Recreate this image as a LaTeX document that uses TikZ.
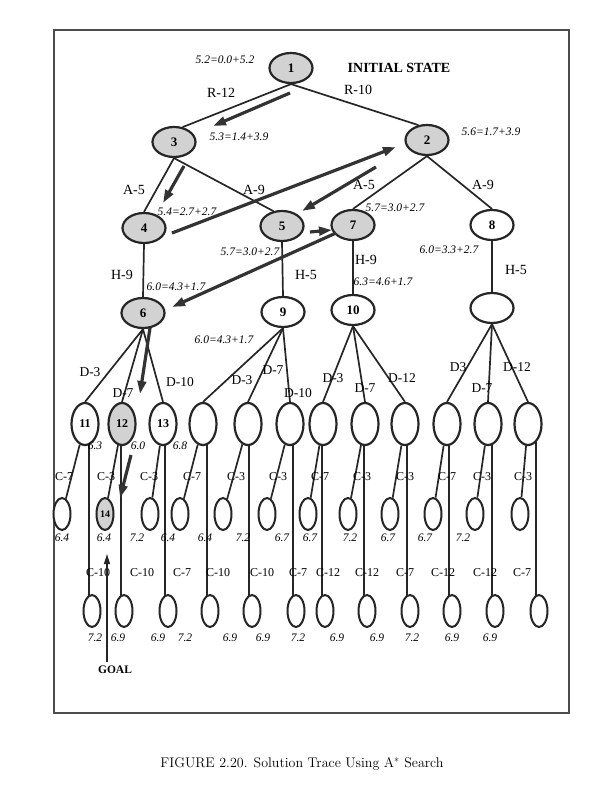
\documentclass[tikz,border=0pt]{standalone}
\usepackage{amssymb}
\usepackage{amsmath}
\usepackage{fontspec}
\newfontfamily\tms{Liberation Serif}
\usetikzlibrary{shapes.geometric,arrows.meta,backgrounds,calc}

\tikzset{
    state/.style={ellipse, draw=black!85, line width=2.2pt, fill=gray!35, minimum width=43pt, minimum height=30pt, inner sep=0pt, font=\tms\bfseries\fontsize{13}{13}\selectfont},
    unvisited/.style={state, fill=white},
    deep/.style={unvisited, minimum width=27pt, minimum height=42pt, font=\tms\bfseries\fontsize{12}{12}\selectfont},
    deepdone/.style={deep, fill=gray!35},
    twig/.style={unvisited, line width=2pt, minimum width=17pt, minimum height=32pt, font=\tms\bfseries\fontsize{10}{10}\selectfont},
    twigdone/.style={twig, fill=gray!35},
    op/.style={font=\tms\fontsize{14}{14}\selectfont, inner sep=0pt},
    cop/.style={font=\tms\fontsize{12}{12}\selectfont, inner sep=0pt},
    cost/.style={font=\tms\itshape\fontsize{11.5}{11.5}\selectfont, inner sep=0pt},
    link/.style={line width=1.7pt, black!85},
    solution/.style={line width=3.2pt, black!80, -{Triangle[length=13pt,width=8.5pt]}}
}

\begin{document}
\begin{tikzpicture}[x=1pt, y=-1pt]
    \useasboundingbox (0,0) rectangle (611,785);
    \draw[gray!60!black, line width=1.8pt] (54,30) rectangle (569,713);

    \node[state] (n1) at (291,68) {1};
    \node[state] (n3) at (174,142) {3};
    \node[state] (n2) at (427,140) {2};
    \node[state] (n4) at (144,228) {4};
    \node[state] (n5) at (282,226) {5};
    \node[state] (n7) at (353,225) {7};
    \node[unvisited] (n8) at (492,225) {8};
    \node[state] (n6) at (143,313) {6};
    \node[unvisited] (n9) at (283,312) {9};
    \node[unvisited] (n10) at (353,310) {10};
    \node[unvisited] (n0) at (492,308) {};

    \foreach \x/\s/\t [count=\i] in {85/deep/11, 122/deepdone/12, 163/deep/13, 203/deep/{}, 248/deep/{}, 290/deep/{},
        323/deep/{}, 365/deep/{}, 405/deep/{}, 447/deep/{}, 488/deep/{}, 528/deep/{}}
        \node[\s] (t\i) at (\x,424) {\t};
    \foreach \x/\s/\t [count=\i] in {62/twig/{}, 105/twigdone/14, 150/twig/{}, 180/twig/{}, 223/twig/{}, 267/twig/{},
        308/twig/{}, 348/twig/{}, 390/twig/{}, 433/twig/{}, 475/twig/{}, 520/twig/{}}
        \node[\s] (a\i) at (\x,514) {\t};
    \foreach \x [count=\i] in {92,124,168,210,252,296,325,367,410,452,495,539}
        \node[twig] (b\i) at (\x,611) {};

    \draw[link] (n1.south) -- (n3.60);
    \draw[link] (n1.south) -- (n2.120);
    \draw[link] (n3.south) -- (n4.north);
    \draw[link] (n3.south) -- (n5.120);
    \draw[link] (n2.south) -- (n7.north);
    \draw[link] (n2.south) -- (n8.north);
    \draw[link] (n4.south) -- (n6.north);
    \draw[link] (n5.south) -- (n9.north);
    \draw[link] (n7.south) -- (n10.north);
    \draw[link] (n8.south) -- (n0.north);
    \foreach \p/\c in {n6/1, n6/2, n6/3, n9/4, n9/5, n9/6, n10/7, n10/8, n10/9, n0/10, n0/11, n0/12}
        \draw[link] (\p.south) -- (t\c.north);
    \begin{scope}[on background layer]
        \foreach \i in {1,...,12} {
            \draw[link] (t\i) -- (a\i);
            \draw[link] ($(b\i.center)+(-3,0)$) -- ($(b\i.center |- t\i.center)+(-3,0)$);
        }
    \end{scope}

    \node[font=\tms\bfseries\fontsize{14}{14}\selectfont] (init) at (399,68) {INITIAL STATE};
    \node[cost] (c1) at (225,60) {5.2=0.0+5.2};
    \node[cost] (c3) at (239,137) {5.3=1.4+3.9};
    \node[cost] (c2) at (491,132) {5.6=1.7+3.9};
    \node[cost] (c4) at (187,212) {5.4=2.7+2.7};
    \node[cost] (c7) at (395,208) {5.7=3.0+2.7};
    \node[cost] (c5) at (250,252) {5.7=3.0+2.7};
    \node[cost] (c8) at (449,250) {6.0=3.3+2.7};
    \node[cost] (c6) at (176,287) {6.0=4.3+1.7};
    \node[cost] (c10) at (383,282) {6.3=4.6+1.7};
    \node[cost] (c9) at (224,340) {6.0=4.3+1.7};

    \node[op] (m13) at (221,93) {R-12};
    \node[op] (m12) at (358,90) {R-10};
    \node[op] (m34) at (134,190) {A-5};
    \node[op] (m35) at (254,190) {A-9};
    \node[op] (m27) at (364,185) {A-5};
    \node[op] (m28) at (483,185) {A-9};
    \node[op] (m46) at (122,275) {H-9};
    \node[op] (m59) at (306,275) {H-5};
    \node[op] (m710) at (366,260) {H-9};
    \node[op] (m80) at (516,270) {H-5};

    \foreach \x/\y/\t [count=\i] in {90/372/D-3, 123/393/D-7, 180/382/D-10, 242/380/D-3, 273/370/D-7, 298/393/D-10,
        333/378/D-3, 365/388/D-7, 402/378/D-12, 458/367/D3, 482/388/D-7, 517/367/D-12}
        \node[op, font=\tms\fontsize{13.5}{13.5}\selectfont] (d\i) at (\x,\y) {\t};
    \node[cost] (v11) at (95,446) {6.3};
    \node[cost] (v12) at (138,446) {6.0};
    \node[cost] (v13) at (180,446) {6.8};
    \foreach \x/\t [count=\i] in {64/C-7, 106/C-3, 149/C-3, 192/C-7, 236/C-3, 278/C-3,
        320/C-7, 362/C-3, 405/C-3, 447/C-7, 482/C-3, 523/C-3}
        \node[cop] (p\i) at (\x,477) {\t};
    \foreach \x/\t [count=\i] in {62/6.4, 104/6.4, 137/7.2, 168/6.4, 205/6.4, 243/7.2,
        282/6.7, 310/6.7, 350/7.2, 388/6.7, 425/6.7, 463/7.2}
        \node[cost] (u\i) at (\x,538) {\t};
    \foreach \x/\t [count=\i] in {98/C-10, 142/C-10, 182/C-7, 218/C-10, 262/C-10, 298/C-7,
        328/C-12, 367/C-12, 405/C-7, 443/C-12, 485/C-12, 522/C-7}
        \node[cop] (q\i) at (\x,573) {\t};
    \foreach \x/\t [count=\i] in {95/7.2, 118/6.9, 158/6.9, 185/7.2, 230/6.9, 263/6.9,
        298/7.2, 337/6.9, 377/6.9, 412/7.2, 452/6.9, 490/6.9}
        \node[cost] (w\i) at (\x,638) {\t};

    \coordinate (s1) at (290,93);  \coordinate (e1) at (213,126);
    \coordinate (s2) at (184,166); \coordinate (e2) at (163,203);
    \coordinate (s3) at (172,233); \coordinate (e3) at (396,147);
    \coordinate (s4) at (376,167); \coordinate (e4) at (302,211);
    \coordinate (s5) at (310,232); \coordinate (e5) at (332,230);
    \coordinate (s6) at (336,233); \coordinate (e6) at (172,307);
    \coordinate (s7) at (150,328); \coordinate (e7) at (140,394);
    \coordinate (s8) at (131,455); \coordinate (e8) at (120,498);
    \foreach \i in {1,...,8}
        \draw[solution] (s\i) -- (e\i);

    \node[font=\tms\bfseries\fontsize{11.5}{11.5}\selectfont] (goal) at (115,670) {GOAL};
    \coordinate (g) at (107,662);
    \coordinate (gt) at (107,554);
    \draw[line width=1.5pt, black!85, -{Triangle[length=10pt,width=6pt]}] (g) -- (gt);

    \node[font=\fontsize{14}{14}\selectfont] (caption) at (302,764) {FIGURE 2.20. Solution Trace Using A$^{*}$ Search};
\end{tikzpicture}
\end{document}
